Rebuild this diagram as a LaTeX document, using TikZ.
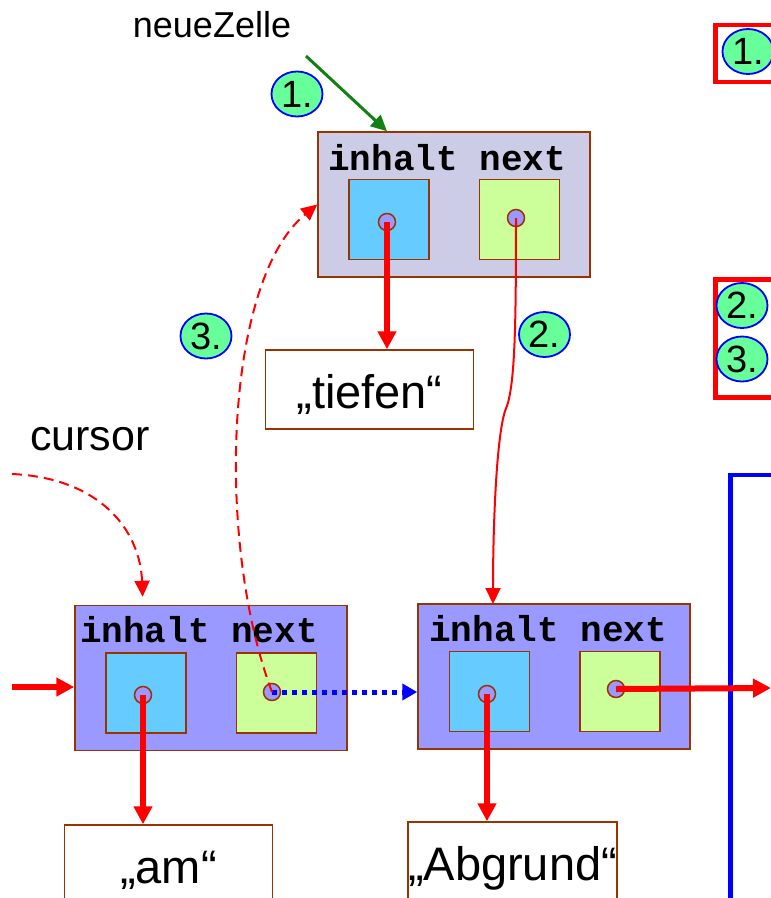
\documentclass[tikz,border=0pt]{standalone}
\usepackage{fontspec}
\setmainfont{Liberation Sans}
\setmonofont{Liberation Mono}
\usetikzlibrary{arrows.meta,shapes.geometric}
\definecolor{zellGrau}{HTML}{CCCCE6}
\definecolor{zellBlau}{HTML}{9999FF}
\definecolor{inhaltBlau}{HTML}{66CCFF}
\definecolor{nextGruen}{HTML}{CCFF99}
\definecolor{randBraun}{HTML}{993300}
\definecolor{marke}{HTML}{66FF99}
\definecolor{pfeilGruen}{HTML}{138013}

\begin{document}
\begin{tikzpicture}[x=1pt, y=-1pt,
  zelle/.style={draw=randBraun, line width=1.5pt, inner sep=0, minimum width=272pt, minimum height=145pt},
  feld/.style={draw=randBraun, line width=1.5pt, inner sep=0, minimum size=80pt},
  ptr/.style={circle, draw=randBraun, line width=1.5pt, fill=zellBlau, inner sep=0, minimum size=17pt},
  wert/.style={draw=randBraun, line width=1.5pt, fill=white, inner sep=0, minimum width=208pt, minimum height=79pt,
    text height=42pt, text depth=5pt, font=\fontsize{47}{56}\selectfont},
  code/.style={font=\ttfamily\bfseries\fontsize{36}{40}\selectfont, inner sep=0, anchor=base west},
  txt/.style={inner sep=0, anchor=base},
  nr/.style={ellipse, draw=blue, line width=1.8pt, fill=marke, inner sep=0, minimum width=51pt, minimum height=45pt,
    font=\fontsize{38}{42}\selectfont},
  refpfeil/.style={red, line width=6pt, -{Triangle[length=18pt,width=18pt]}},
  duenn/.style={red, line width=2pt, -{Triangle[length=16pt,width=15pt]}},
  gestrichelt/.style={duenn, dash pattern=on 10pt off 6pt},
  rahmen/.style={line width=4.5pt}]
\clip (0,0) rectangle (771,898);

% neue Zelle oben
\node[zelle, fill=zellGrau] (nz) at (454,204.5) {};
\node[code] (nzT) at (328,170) {inhalt next};
\node[feld, fill=inhaltBlau] (nzI) at (389,219.5) {};
\node[feld, fill=nextGruen] (nzN) at (519.5,219.5) {};
\node[ptr] (nzIp) at (387,222) {};
\node[ptr] (nzNp) at (516,218) {};
\node[txt, font=\fontsize{36}{42}\selectfont] (nzL) at (212,37) {neueZelle};
\node[wert] (tiefen) at (369.5,389.5) {„tiefen“};

% Liste unten
\node[zelle, fill=zellBlau] (c1) at (211,678) {};
\node[code] (c1T) at (80,642) {inhalt next};
\node[feld, fill=inhaltBlau] (c1I) at (146,693) {};
\node[feld, fill=nextGruen] (c1N) at (276.5,693) {};
\node[ptr] (c1Ip) at (143,695) {};
\node[ptr] (c1Np) at (272,692) {};
\node[wert] (am) at (168.5,864.5) {„am“};

\node[zelle, fill=zellBlau] (c2) at (554,676.5) {};
\node[code] (c2T) at (429,641) {inhalt next};
\node[feld, fill=inhaltBlau] (c2I) at (489.5,691.5) {};
\node[feld, fill=nextGruen] (c2N) at (620,691.5) {};
\node[ptr] (c2Ip) at (487,694) {};
\node[ptr] (c2Np) at (616,689) {};
\node[wert] (abgrund) at (512.5,861.5) {„Abgrund“};

\node[txt, font=\fontsize{43}{50}\selectfont] (curL) at (90,450) {cursor};

% Schrittnummern
\node[nr] (s1) at (297,94) {1.};
\node[nr] (s2) at (544.5,334.5) {2.};
\node[nr] (s3) at (206,336) {3.};

% Rahmen rechts
\draw[red, rahmen] (715.5,25) rectangle (800,82);
\draw[red, rahmen] (715.5,279.5) rectangle (800,397.5);
\draw[blue, rahmen] (730.5,475) rectangle (800,930);
\node[nr] (r1) at (748,51.5) {1.};
\node[nr] (r2) at (742,305.5) {2.};
\node[nr] (r3) at (742,359) {3.};

% Verweise
\coordinate (nzStart) at (306,56);
\coordinate (inL) at (12,687);
\coordinate (outR) at (771,688);
\coordinate (curStart) at (12,474);
\coordinate (knick) at (505,411);
\coordinate (c2top) at (493,604);

\draw[pfeilGruen, line width=3pt, -{Triangle[length=16pt,width=15pt]}] (nzStart) -- (nzIp |- nz.north);
\draw[refpfeil] (nzIp.center) -- (nzIp |- tiefen.north);
\draw[refpfeil] (c1Ip.center) -- (c1Ip |- am.north);
\draw[refpfeil] (c2Ip.center) -- (c2Ip |- abgrund.north);
\draw[refpfeil] (inL) -- (inL -| c1.west);
\draw[refpfeil] (c2Np.center) -- (outR);
\draw[blue, line width=5pt, dash pattern=on 5pt off 5pt, -{Triangle[length=15pt,width=16pt]}]
  (c1Np.center) -- (c1Np -| c2.west);
\draw[duenn] (nzNp.center) .. controls (516,330) and (515,390) .. (knick)
  .. controls (496,440) and (493,530) .. (c2top);
\draw[gestrichelt] (c1Np.center) .. controls (215,540) and (225,280) .. (nz.west);
\draw[gestrichelt, shorten >=8pt] (curStart) .. controls (100,478) and (140,530) .. (c1Ip |- c1.north);
\end{tikzpicture}
\end{document}
